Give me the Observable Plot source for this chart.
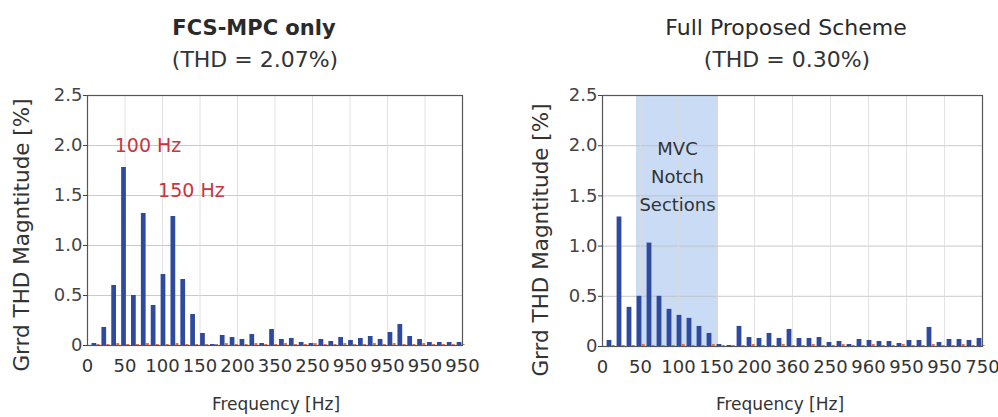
<!DOCTYPE html>
<html>
<head>
<meta charset="utf-8">
<script src="https://cdn.jsdelivr.net/npm/d3@7"></script>
<script src="https://cdn.jsdelivr.net/npm/@observablehq/plot@0.6"></script>
<style>
  html, body { margin: 0; padding: 0; background: #fff; }
  body { width: 998px; height: 417px; position: relative; overflow: hidden; font-family: "DejaVu Sans", sans-serif; color: #333; }
  .t { position: absolute; text-align: center; white-space: nowrap; transform: translate(-50%, -50%); line-height: 1; }
  .title { font-size: 22px; color: #2a2a2a; }
  .sub { font-size: 22px; color: #333; }
  .xl { font-size: 17px; color: #333; }
  .yl { font-size: 21.5px; color: #333; transform: translate(-50%, -50%) rotate(-90deg); }
  .panel { position: absolute; top: 80px; }
</style>
</head>
<body>
<div class="t title" style="left:254px; top:28px; font-weight:600; font-size:21px;">FCS-MPC only</div>
<div class="t sub" style="left:255px; top:60px;">(THD = 2.07%)</div>
<div class="t title" style="left:786px; top:28px;">Full Proposed Scheme</div>
<div class="t sub" style="left:787px; top:60px;">(THD = 0.30%)</div>
<div class="panel" id="p1" style="left:0px;"></div>
<div class="panel" id="p2" style="left:500px;"></div>
<div class="t yl" id="yl1" style="left:22px; top:235px;"></div>
<div class="t yl" id="yl2" style="left:541px; top:240px;"></div>
<div class="t xl" id="xl1" style="left:276px; top:404px;"></div>
<div class="t xl" id="xl2" style="left:780px; top:404px;"></div>
<script>
// ---- data ----
const xTickLabelsLeft  = ["0","50","100","150","200","350","250","950","950","950","950"];
const xTickLabelsRight = ["0","50","100","150","200","360","250","960","950","950","750"];
const yTicks = [0, 0.5, 1.0, 1.5, 2.0, 2.5];

// blue bars: THD magnitude [%] per harmonic bin (FCS-MPC only)
const fcsValues = [0.02, 0.18, 0.60, 1.78, 0.50, 1.32, 0.40, 0.71, 1.29, 0.66,
                   0.31, 0.12, 0.01, 0.10, 0.08, 0.06, 0.11, 0.02, 0.16, 0.06,
                   0.07, 0.03, 0.02, 0.06, 0.04, 0.08, 0.05, 0.07, 0.09, 0.06,
                   0.13, 0.21, 0.09, 0.06, 0.03, 0.03, 0.03, 0.03];
// orange bars (reference spectrum, near zero)
const fcsRef    = [0.01, 0.01, 0.02, 0.01, 0.01, 0.02, 0.01, 0.01, 0.02, 0.01,
                   0.01, 0.01, 0.01, 0.02, 0.01, 0.01, 0.02, 0.01, 0.01, 0.02,
                   0.01, 0.01, 0.02, 0.01, 0.01, 0.02, 0.01, 0.01, 0.02, 0.01,
                   0.02, 0.01, 0.01, 0.02, 0.01, 0.01, 0.01, 0.01];
// blue bars: Full Proposed Scheme
const fullValues = [0.06, 1.29, 0.39, 0.50, 1.03, 0.50, 0.37, 0.31, 0.28, 0.20,
                    0.13, 0.02, 0.01, 0.20, 0.09, 0.08, 0.13, 0.08, 0.17, 0.08,
                    0.08, 0.09, 0.04, 0.05, 0.02, 0.07, 0.06, 0.05, 0.05, 0.03,
                    0.06, 0.06, 0.19, 0.04, 0.07, 0.07, 0.06, 0.08];
const fullRef   = [0.01, 0.01, 0.01, 0.02, 0.01, 0.01, 0.01, 0.02, 0.01, 0.01,
                   0.02, 0.01, 0.01, 0.01, 0.02, 0.01, 0.01, 0.02, 0.01, 0.01,
                   0.02, 0.01, 0.01, 0.02, 0.01, 0.01, 0.02, 0.01, 0.01, 0.02,
                   0.01, 0.01, 0.02, 0.01, 0.01, 0.02, 0.01, 0.01];

// annotations (attached to bar indices) and notch band (in bin units)
const peak100 = [{i: 3, text: "100 Hz"}];
const peak150 = [{i: 8, text: "150 Hz"}];
const notchBand = [{x1: 3.4, x2: 11.6, text: "MVC\nNotch\nSections"}];

const yLabel = "Grrd THD Magntitude [%]";
const xLabel = "Frequency [Hz]";

// ---- styles ----
const BLUE = "#2e4a9e";
const ORANGE = "#e0764a";
const RED = "#c8363f";
const NBINS = 38;
const tickPos = d3.range(11).map(i => i * NBINS / 10);

function panel({values, ref, labels, width, marginLeft, marginRight, marginBottom, notch, left}) {
  const data = values.map((v, i) => ({i, v, r: ref[i]}));
  const fmtX = d => labels[Math.round(d / (NBINS / 10))];
  const marks = [];
  if (notch) {
    marks.push(Plot.rect(notch, {x1: "x1", x2: "x2", y1: 0, y2: 2.5, fill: "#c4d8f4", fillOpacity: 0.9}));
  }
  marks.push(
    Plot.gridY(yTicks, {stroke: "#bdbdbd", strokeOpacity: 1, strokeWidth: 0.8}),
    Plot.gridX(tickPos, {stroke: "#dadada", strokeOpacity: 1, strokeWidth: 0.8}),
    Plot.rect(data, {x1: d => d.i + 0.70 - 0.24, x2: d => d.i + 0.70 + 0.24, y1: 0, y2: "v", fill: BLUE}),
    Plot.rect(data, {x1: d => d.i + 1.12 - 0.15, x2: d => d.i + 1.12 + 0.15, y1: 0, y2: "r", fill: ORANGE}),
    Plot.frame({stroke: "#555", strokeWidth: 1.2}),
    Plot.axisY(yTicks, {tickFormat: d => d === 0 ? "0" : d.toFixed(1), tickSize: 4, tickPadding: 1, fontSize: 18, color: "#444", label: null}),
    Plot.axisX(tickPos, {tickFormat: fmtX, tickSize: 0, tickPadding: 14, fontSize: 18, color: "#333", label: null})
  );
  if (notch) {
    marks.push(Plot.text(notch, {x: d => (d.x1 + d.x2) / 2, y: 1.72, text: "text", fontSize: 18, fill: "#333", lineHeight: 1.55}));
  }
  if (left) {
    marks.push(Plot.text(peak100, {x: d => d.i + 0.7, y: d => values[d.i], text: "text", fill: RED, fontSize: 19, dx: 24, dy: -22}));
    marks.push(Plot.text(peak150, {x: d => d.i + 0.7, y: d => values[d.i], text: "text", fill: RED, fontSize: 19, dx: 18, dy: -26}));
  }
  return Plot.plot({
    width, height: 337,
    marginLeft, marginRight, marginTop: 15, marginBottom,
    style: {fontFamily: "DejaVu Sans", fontSize: "18px", color: "#333", background: "transparent", overflow: "visible"},
    x: {domain: [0, NBINS]},
    y: {domain: [0, 2.5]},
    marks
  });
}

document.getElementById("p1").append(panel({
  values: fcsValues, ref: fcsRef, labels: xTickLabelsLeft,
  width: 495, marginLeft: 87, marginRight: 33, marginBottom: 72, left: true
}));
document.getElementById("p2").append(panel({
  values: fullValues, ref: fullRef, labels: xTickLabelsRight,
  width: 498, marginLeft: 102, marginRight: 16, marginBottom: 71,
  notch: notchBand
}));
for (const id of ["yl1", "yl2"]) document.getElementById(id).textContent = yLabel;
for (const id of ["xl1", "xl2"]) document.getElementById(id).textContent = xLabel;
</script>
</body>
</html>
